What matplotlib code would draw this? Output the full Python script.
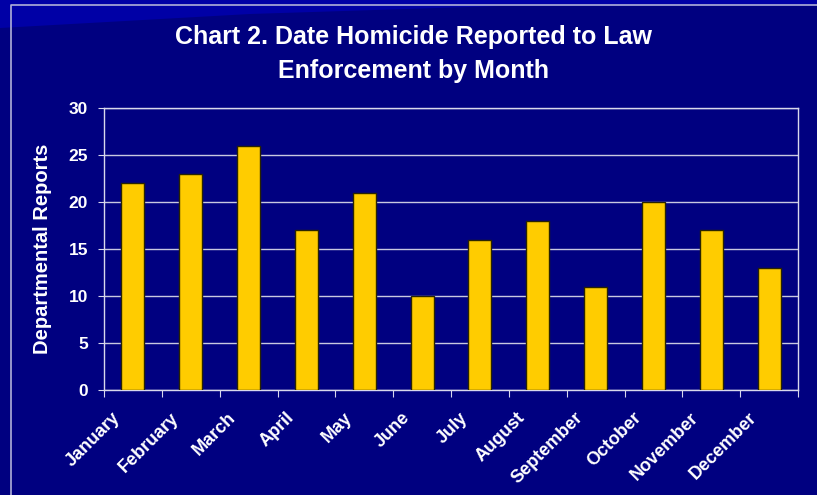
import numpy as np
import matplotlib.pyplot as plt
import matplotlib.transforms as mtransforms
from matplotlib.patches import Polygon
from matplotlib.lines import Line2D

months = ["January", "February", "March", "April", "May", "June",
          "July", "August", "September", "October", "November", "December"]
reports = [22, 23, 26, 17, 21, 10, 16, 18, 11, 20, 17, 13]
yticks = [0, 5, 10, 15, 20, 25, 30]

bg = "#000080"
fig = plt.figure(figsize=(8.17, 4.95), dpi=100, facecolor=bg)
W, H = 817, 495


def fx(px):
    return px / W


def fy(py):
    return 1 - py / H


# lighter swoosh at top left and thin frame line
fig.patches.append(Polygon([(fx(0), fy(0)), (fx(817), fy(0)), (fx(817), fy(5)),
                            (fx(500), fy(6)), (fx(250), fy(14)), (fx(0), fy(28))],
                           closed=True, transform=fig.transFigure,
                           facecolor="#0000a6", edgecolor="none", zorder=0))
fig.lines.append(Line2D([fx(11), fx(11), fx(817)], [fy(495), fy(5), fy(5)],
                        transform=fig.transFigure, color="#b0b0d8", lw=1.2))

ax = fig.add_axes([fx(104), fy(390), fx(798 - 104), (390 - 108) / H])
ax.set_facecolor(bg)

x = np.arange(len(months))
ax.bar(x, reports, width=0.40, color="#ffcc00", edgecolor="#2a2400",
       linewidth=1.0, zorder=3)

ax.set_xlim(-0.5, len(months) - 0.5)
ax.set_ylim(0, 30)
ax.set_yticks(yticks)
ax.yaxis.grid(True, color="#c8c8e0", lw=1.0, zorder=0)
ax.set_axisbelow(True)

for s in ax.spines.values():
    s.set_color("#d8d8ec")
    s.set_linewidth(1.0)

ax.set_xticks(np.arange(len(months) + 1) - 0.5, minor=False)
ax.set_xticklabels([])
ax.set_xticks(x, minor=True)
ax.set_xticklabels(months, minor=True, rotation=45, ha="right",
                   rotation_mode="anchor", color="white",
                   fontsize=13, fontweight="bold", family="Liberation Sans")
ax.tick_params(axis="x", which="major", length=5, color="#d8d8ec", direction="out")
ax.tick_params(axis="x", which="minor", length=0, pad=14)
shift = mtransforms.ScaledTranslation(-21 / 100, 0, fig.dpi_scale_trans)
for t in ax.get_xticklabels(minor=True):
    t.set_transform(t.get_transform() + shift)

ax.tick_params(axis="y", length=4.5, color="#d8d8ec", labelcolor="white",
               labelsize=12.5, pad=7)
for t in ax.get_yticklabels():
    t.set_fontweight("bold")
    t.set_family("Liberation Sans")

ax.set_ylabel("Departmental Reports", color="white", fontsize=14.5,
              fontweight="bold", family="Liberation Sans", labelpad=12)

fig.text(fx(413), fy(54),
         "Chart 2. Date Homicide Reported to Law\nEnforcement by Month",
         ha="center", va="center", color="white", fontsize=18,
         fontweight="bold", family="Liberation Sans", linespacing=1.55)

fig.savefig("out.png", dpi=100, facecolor=bg)
